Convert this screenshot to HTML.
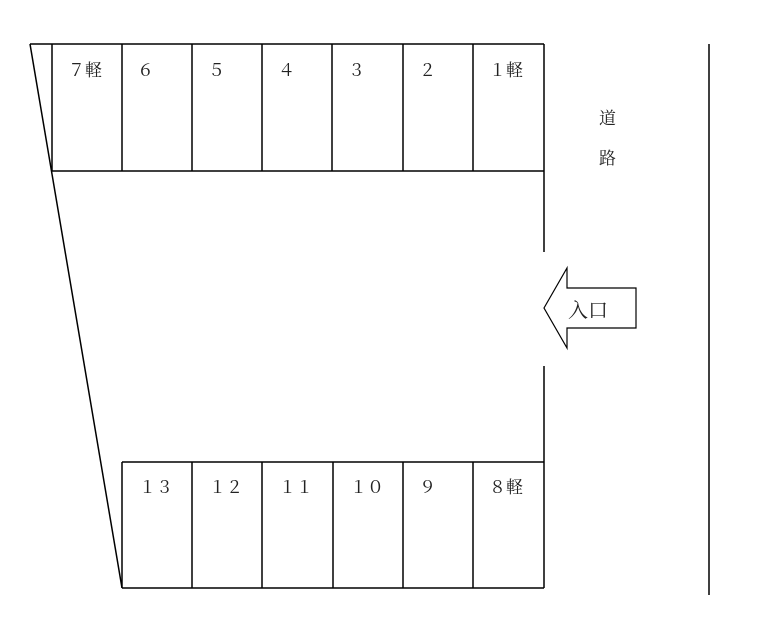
<!DOCTYPE html>
<html><head><meta charset="utf-8"><style>body{margin:0;background:#fff}</style></head><body>
<svg width="766" height="633" viewBox="0 0 766 633" xmlns="http://www.w3.org/2000/svg" style="display:block">
<g stroke="#000" stroke-width="1.5" fill="none">
<line x1="30" y1="44" x2="544" y2="44"/>
<line x1="52" y1="171" x2="544" y2="171"/>
<line x1="30" y1="44" x2="122" y2="588"/>
<line x1="52" y1="44" x2="52" y2="171"/>
<line x1="122" y1="44" x2="122" y2="171"/>
<line x1="192" y1="44" x2="192" y2="171"/>
<line x1="262" y1="44" x2="262" y2="171"/>
<line x1="332" y1="44" x2="332" y2="171"/>
<line x1="403" y1="44" x2="403" y2="171"/>
<line x1="473" y1="44" x2="473" y2="171"/>
<line x1="544" y1="44" x2="544" y2="252"/>
<line x1="544" y1="366" x2="544" y2="588"/>
<line x1="122" y1="462" x2="544" y2="462"/>
<line x1="122" y1="588" x2="544" y2="588"/>
<line x1="122" y1="462" x2="122" y2="588"/>
<line x1="192" y1="462" x2="192" y2="588"/>
<line x1="262" y1="462" x2="262" y2="588"/>
<line x1="333" y1="462" x2="333" y2="588"/>
<line x1="403" y1="462" x2="403" y2="588"/>
<line x1="473" y1="462" x2="473" y2="588"/>
<line x1="709" y1="44" x2="709" y2="595"/>
<polygon points="544,308 567,268 567,288 636,288 636,328 567,328 567,348" stroke-width="1.2"/>
</g>
<g font-family="'Noto Serif CJK SC','Liberation Serif',serif" font-size="17" fill="#222">
<text x="68" y="76">７軽</text>
<text x="137" y="76">６</text>
<text x="208" y="76">５</text>
<text x="278" y="76">４</text>
<text x="348" y="76">３</text>
<text x="419" y="76">２</text>
<text x="489" y="76">１軽</text>
<text x="139" y="493">１３</text>
<text x="209" y="493">１２</text>
<text x="279" y="493">１１</text>
<text x="350" y="493">１０</text>
<text x="419" y="493">９</text>
<text x="489" y="493">８軽</text>
<text x="599" y="124">道</text>
<text x="599" y="164">路</text>
<text x="568" y="317" font-size="20">入口</text>
</g>
</svg>
</body></html>
